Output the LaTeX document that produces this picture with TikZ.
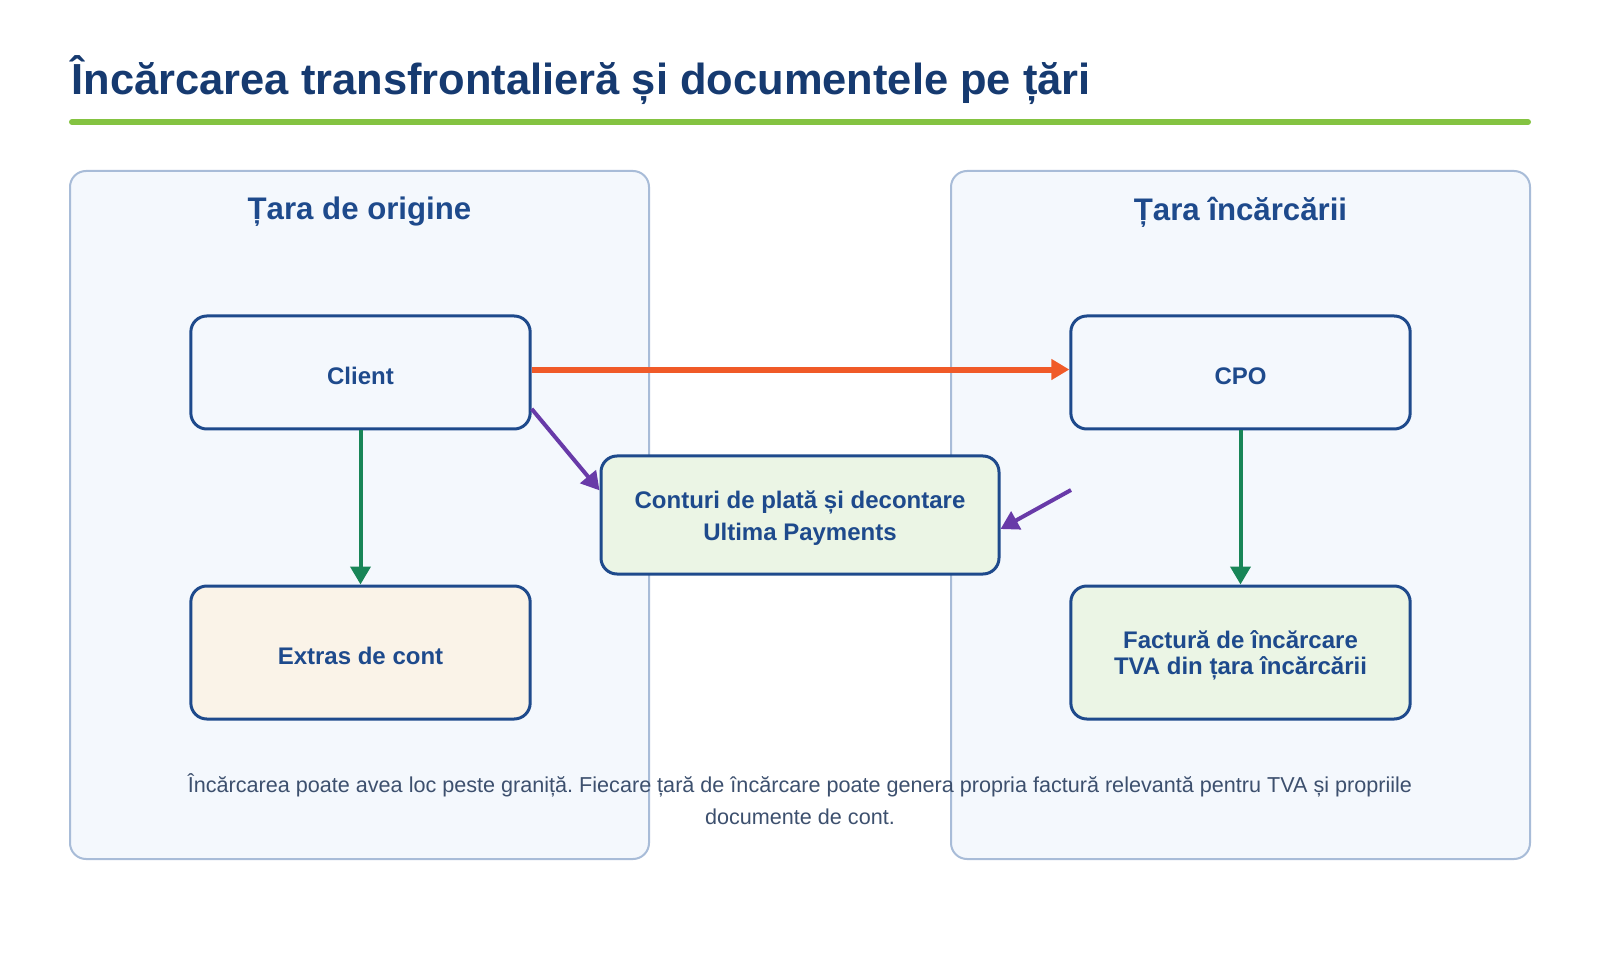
\documentclass[tikz,border=0pt]{standalone}
\usepackage{fontspec}
\setmainfont{Liberation Sans}
\usetikzlibrary{arrows.meta}
\frenchspacing

\definecolor{titleNavy}{RGB}{22,58,112}
\definecolor{boxBlue}{RGB}{30,74,140}
\definecolor{barGreen}{RGB}{132,195,65}
\definecolor{panelFill}{RGB}{244,248,253}
\definecolor{panelLine}{RGB}{168,188,216}
\definecolor{extrasFill}{RGB}{250,243,232}
\definecolor{docFill}{RGB}{235,245,229}
\definecolor{flowOrange}{RGB}{240,90,40}
\definecolor{flowGreen}{RGB}{24,133,87}
\definecolor{flowPurple}{RGB}{104,58,168}
\definecolor{noteGray}{RGB}{61,80,110}

\tikzset{every picture/.style={line width=0.75pt}}
\tikzset{
  panel/.style={draw=panelLine, fill=panelFill, line width=1.5pt, rounded corners=12pt},
  paneltitle/.style={text=boxBlue, font=\fontsize{23.4}{28}\selectfont\bfseries, inner sep=0pt},
  box/.style={draw=boxBlue, line width=2.25pt, rounded corners=12pt, text=boxBlue,
    font=\fontsize{18}{19.5}\selectfont\bfseries, align=center, inner sep=0pt,
    minimum width=254.5pt, minimum height=84.75pt},
  onebox/.style={box, execute at begin node={\rule{0pt}{17.5pt}}},
  flow/.style={line width=3pt, -{Triangle[width=15pt,length=13.5pt]}},
}
\newcommand{\liftfirst}{\rule{0pt}{18pt}}

\begin{document}
\begin{tikzpicture}[x=0.75pt,y=0.75pt,yscale=-1,xscale=1]
\useasboundingbox[fill=white] (0,0) rectangle (1600,980);

%Text: title
\node[anchor=base west, inner sep=0pt, text=titleNavy, font=\fontsize{32.6}{38}\selectfont\bfseries] (title) at (71,95) {Încărcarea transfrontalieră și documentele pe țări};
%Straight Lines: title bar
\draw [color=barGreen, line width=4.5pt, line cap=round] (72,122) -- (1528,122) ;

%Shape: Rounded Rect, left panel
\draw [panel] (70,171) rectangle (649,859) ;
%Shape: Rounded Rect, right panel
\draw [panel] (951,171) rectangle (1530,859) ;
\node[paneltitle] (origin) at (359.5,212) {Țara de origine};
\node[paneltitle] (charging) at (1240.5,212) {Țara încărcării};

%Text: note
\node[text=noteGray, font=\fontsize{16.2}{24}\selectfont, align=center, inner sep=0pt] (note) at (800,799) {Încărcarea poate avea loc peste graniță. Fiecare țară de încărcare poate genera propria factură relevantă pentru TVA și propriile\\documente de cont.};

%Shape: boxes
\node[onebox, fill=panelFill] (client) at (360.5,372.5) {Client};
\node[onebox, fill=extrasFill, minimum height=99.75pt] (extras) at (360.5,652.5) {Extras de cont};
\node[onebox, fill=panelFill] (cpo) at (1240.5,372.5) {CPO};
\node[box, fill=docFill, minimum height=99.75pt] (invoice) at (1240.5,652.5) {\liftfirst Factură de încărcare\\TVA din țara încărcării};
\node[box, fill=docFill, minimum width=298.5pt, minimum height=88.5pt, font=\fontsize{18}{23.5}\selectfont\bfseries] (accounts) at (800,515) {\liftfirst Conturi de plată și decontare\\Ultima Payments};
\coordinate (cpofoot) at (1071,490);

%Straight Lines: arrows
\draw [flow, color=flowOrange, line width=4.5pt] (client.1) -- (cpo.179) ;
\draw [flow, color=flowGreen] (client) -- (extras) ;
\draw [flow, color=flowGreen] (cpo) -- (invoice) ;
\draw [flow, color=flowPurple] (client.-12) -- (accounts.173) ;
\draw [flow, color=flowPurple] (cpofoot) -- (accounts.-4) ;
\end{tikzpicture}
\end{document}
